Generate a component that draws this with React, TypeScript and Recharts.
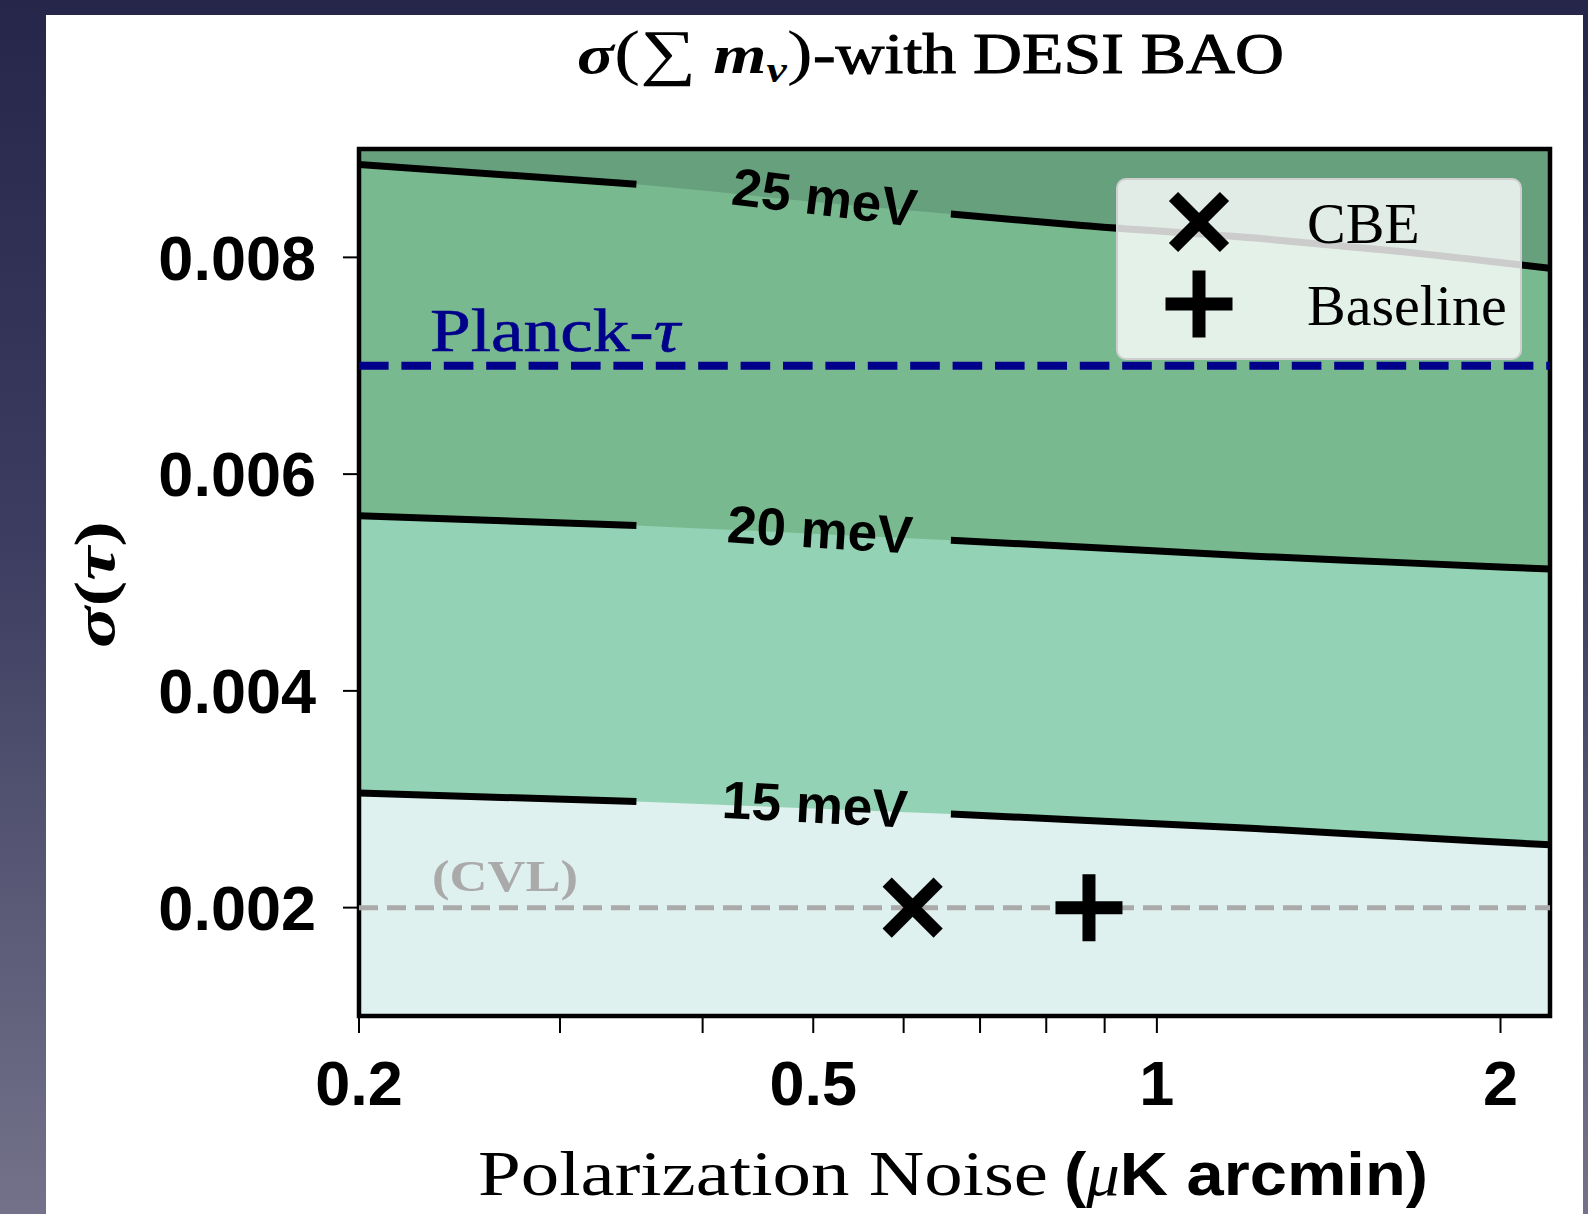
import React from 'react';
import {
  ComposedChart,
  Area,
  Line,
  Scatter,
  XAxis,
  YAxis,
  ReferenceLine,
  ReferenceArea,
  Legend,
} from 'recharts';

// Polarization noise grid (μK arcmin) where the σ(∑mν) contours are sampled
const noiseGrid = [0.2, 0.35, 0.5, 0.66, 0.86, 1.22, 1.6, 2.21];
// σ(τ) along each σ(∑mν) contour
const sigmaTau15 = [0.003057, 0.002979, 0.002914, 0.002864, 0.002806, 0.00273, 0.002661, 0.002579];
const sigmaTau20 = [0.005616, 0.005527, 0.00545, 0.00539, 0.005328, 0.005243, 0.005188, 0.005124];
const sigmaTau25 = [0.008857, 0.008675, 0.008514, 0.0084, 0.008294, 0.008178, 0.008064, 0.007899];
// noise range where the contour lines break for their inline labels
const labelGap = [0.35, 0.66];

const contourLabels = [
  { x: 0.511, y: 0.008515, text: '25 meV', angle: 7 },
  { x: 0.5065, y: 0.005448, text: '20 meV', angle: 3.5 },
  { x: 0.5015, y: 0.002913, text: '15 meV', angle: 3 },
];

const cbePoint = [{ x: 0.611, y: 0.002 }];
const baselinePoint = [{ x: 0.872, y: 0.002 }];

const planckTau = 0.007;
const cvlTau = 0.002;

const xDomain = [0.2, 2.21];
const yDomain = [0.001, 0.009];
const xTicks = [0.2, 0.3, 0.4, 0.5, 0.6, 0.7, 0.8, 0.9, 1, 2];
const xTickLabels: Record<string, string> = { '0.2': '0.2', '0.5': '0.5', '1': '1', '2': '2' };
const yTicks = [0.002, 0.004, 0.006, 0.008];

const rows = noiseGrid.map((x, i) => {
  const inGap = x > labelGap[0] && x < labelGap[1];
  return {
    x,
    ceiling: yDomain[1],
    c25: sigmaTau25[i],
    c20: sigmaTau20[i],
    c15: sigmaTau15[i],
    line25: inGap ? null : sigmaTau25[i],
    line20: inGap ? null : sigmaTau20[i],
    line15: inGap ? null : sigmaTau15[i],
  };
});

const SANS = '"Liberation Sans", Arial, sans-serif';
const SERIF = '"Liberation Serif", "Times New Roman", serif';

const CrossMark = ({ cx, cy }: { cx: number; cy: number }) => {
  const h = 25.5;
  return (
    <g stroke="#000" strokeWidth={13} strokeLinecap="butt">
      <line x1={cx - h} y1={cy - h} x2={cx + h} y2={cy + h} />
      <line x1={cx - h} y1={cy + h} x2={cx + h} y2={cy - h} />
    </g>
  );
};

const PlusMark = ({ cx, cy }: { cx: number; cy: number }) => {
  const h = 33.5;
  return (
    <g stroke="#000" strokeWidth={13} strokeLinecap="butt">
      <line x1={cx - h} y1={cy} x2={cx + h} y2={cy} />
      <line x1={cx} y1={cy - h} x2={cx} y2={cy + h} />
    </g>
  );
};

const ContourLabel = (props: any) => {
  const { cx, cy, payload } = props;
  return (
    <text
      x={cx}
      y={cy}
      dy={14}
      transform={`rotate(${payload.angle} ${cx} ${cy})`}
      textAnchor="middle"
      fontFamily={SANS}
      fontWeight={700}
      fontSize={53}
      fill="#000"
    >
      {payload.text}
    </text>
  );
};

const PlanckLabel = (props: any) => {
  const vb = props.viewBox || {};
  return (
    <text
      x={vb.x + 71}
      y={vb.y - 15}
      fontFamily={SERIF}
      fontSize={62}
      fill="#00008b"
      stroke="#00008b"
      strokeWidth={0.6}
      textLength={250}
      lengthAdjust="spacingAndGlyphs"
    >
      Planck-<tspan fontStyle="italic">τ</tspan>
    </text>
  );
};

const CvlLabel = (props: any) => {
  const vb = props.viewBox || {};
  return (
    <text
      x={vb.x + 73}
      y={vb.y - 17}
      fontFamily={SERIF}
      fontWeight={700}
      fontSize={45}
      fill="#aaaaaa"
      textLength={146}
      lengthAdjust="spacingAndGlyphs"
    >
      (CVL)
    </text>
  );
};

const legendEntries = [
  { name: 'CBE', Mark: CrossMark },
  { name: 'Baseline', Mark: PlusMark },
];

const LegendBox = () => (
  <div
    style={{
      width: 406,
      height: 182,
      boxSizing: 'border-box',
      background: 'rgba(255,255,255,0.8)',
      border: '2px solid #cfcfcf',
      borderRadius: 10,
      position: 'relative',
    }}
  >
    <svg width={406} height={182} style={{ position: 'absolute', left: -2, top: -2 }}>
      {legendEntries.map((e, i) => (
        <g key={e.name}>
          <e.Mark cx={83} cy={44 + i * 82} />
          <text x={191} y={65 + i * 82} fontFamily={SERIF} fontSize={58} fill="#000">
            {e.name}
          </text>
        </g>
      ))}
    </svg>
  </div>
);

export default function App() {
  return (
    <div
      style={{
        position: 'absolute',
        left: 0,
        top: 0,
        width: 1588,
        height: 1214,
        overflow: 'hidden',
        background: 'linear-gradient(180deg, #25264a 0%, #3c3d60 45%, #74728a 100%)',
      }}
    >
      <div style={{ position: 'absolute', left: 46, top: 15, width: 1537, height: 1199, background: '#ffffff' }} />
      <div style={{ position: 'absolute', left: 0, top: 0 }}>
        <ComposedChart
          width={1588}
          height={1214}
          data={rows}
          margin={{ top: 149, right: 38, bottom: 98, left: 259 }}
        >
          <XAxis
            type="number"
            dataKey="x"
            scale="log"
            domain={xDomain}
            allowDataOverflow
            ticks={xTicks}
            interval={0}
            height={100}
            tickSize={17}
            tickMargin={27}
            axisLine={false}
            tickLine={{ stroke: '#000', strokeWidth: 2 }}
            tick={{ fill: '#000', fontSize: 63, fontWeight: 700, fontFamily: SANS }}
            tickFormatter={(v: number) => xTickLabels[String(v)] ?? ''}
          />
          <YAxis
            type="number"
            domain={yDomain}
            allowDataOverflow
            ticks={yTicks}
            interval={0}
            width={100}
            tickSize={16}
            tickMargin={27}
            axisLine={false}
            tickLine={{ stroke: '#000', strokeWidth: 2 }}
            tick={{ fill: '#000', fontSize: 63, fontWeight: 700, fontFamily: SANS }}
            tickFormatter={(v: number) => v.toFixed(3)}
          />
          <Area type="monotone" dataKey="ceiling" fill="#66a07d" fillOpacity={1} stroke="none" legendType="none" isAnimationActive={false} activeDot={false} />
          <Area type="monotone" dataKey="c25" fill="#79b98f" fillOpacity={1} stroke="none" legendType="none" isAnimationActive={false} activeDot={false} />
          <Area type="monotone" dataKey="c20" fill="#93d2b4" fillOpacity={1} stroke="none" legendType="none" isAnimationActive={false} activeDot={false} />
          <Area type="monotone" dataKey="c15" fill="#dff1ee" fillOpacity={1} stroke="none" legendType="none" isAnimationActive={false} activeDot={false} />
          <Line type="monotone" dataKey="line25" stroke="#000" strokeWidth={7} dot={false} activeDot={false} connectNulls={false} legendType="none" isAnimationActive={false} />
          <Line type="monotone" dataKey="line20" stroke="#000" strokeWidth={7} dot={false} activeDot={false} connectNulls={false} legendType="none" isAnimationActive={false} />
          <Line type="monotone" dataKey="line15" stroke="#000" strokeWidth={7} dot={false} activeDot={false} connectNulls={false} legendType="none" isAnimationActive={false} />
          <ReferenceLine y={planckTau} stroke="#00008b" strokeWidth={8} strokeDasharray="29.6 12.8" label={PlanckLabel} />
          <ReferenceLine y={cvlTau} stroke="#aaaaaa" strokeWidth={5} strokeDasharray="19 9" label={CvlLabel} />
          <Scatter data={contourLabels} dataKey="y" legendType="none" shape={ContourLabel} isAnimationActive={false} />
          <Scatter name="CBE" data={cbePoint} dataKey="y" shape={(p: any) => <CrossMark cx={p.cx} cy={p.cy} />} isAnimationActive={false} />
          <Scatter name="Baseline" data={baselinePoint} dataKey="y" shape={(p: any) => <PlusMark cx={p.cx} cy={p.cy} />} isAnimationActive={false} />
          <ReferenceArea
            x1={xDomain[0]}
            x2={xDomain[1]}
            y1={yDomain[0]}
            y2={yDomain[1]}
            fill="none"
            fillOpacity={0}
            stroke="#000"
            strokeWidth={4.5}
            ifOverflow="visible"
          />
          <Legend
            layout="vertical"
            align="center"
            verticalAlign="middle"
            content={LegendBox}
            wrapperStyle={{ position: 'absolute', left: 1116, top: 178, width: 406, height: 182 }}
          />
        </ComposedChart>
      </div>
      <svg
        width={1588}
        height={1214}
        style={{ position: 'absolute', left: 0, top: 0, pointerEvents: 'none' }}
      >
        <text x={577} y={73} fontFamily={SERIF} fontSize={54} fill="#000" textLength={236} lengthAdjust="spacingAndGlyphs">
          <tspan fontWeight={700} fontStyle="italic">σ</tspan>
          <tspan fontSize={62}>(</tspan>
          <tspan fontSize={62}>∑</tspan>
          <tspan fontWeight={700} fontStyle="italic"> m</tspan>
          <tspan fontWeight={700} fontStyle="italic" fontSize={36} dy={9}>ν</tspan>
          <tspan fontSize={62} dy={-9}>)</tspan>
        </text>
        <text
          x={813}
          y={73}
          fontFamily={SERIF}
          fontSize={56}
          fill="#000"
          stroke="#000"
          strokeWidth={1}
          textLength={471}
          lengthAdjust="spacingAndGlyphs"
        >
          -with DESI BAO
        </text>
        <text x={478} y={1195} fontFamily={SERIF} fontSize={63} fill="#000" textLength={570} lengthAdjust="spacingAndGlyphs">
          Polarization Noise
        </text>
        <text x={1064} y={1195} fontFamily={SANS} fontWeight={700} fontSize={62} fill="#000" textLength={364} lengthAdjust="spacingAndGlyphs">
          (<tspan fontFamily={SERIF} fontWeight={400} fontStyle="italic">μ</tspan>K arcmin)
        </text>
        <text
          x={114}
          y={648}
          transform="rotate(-90 114 648)"
          fontFamily={SERIF}
          fontWeight={700}
          fontSize={58}
          fill="#000"
          textLength={127}
          lengthAdjust="spacingAndGlyphs"
        >
          <tspan fontStyle="italic">σ</tspan>(<tspan fontStyle="italic">τ</tspan>)
        </text>
      </svg>
    </div>
  );
}
